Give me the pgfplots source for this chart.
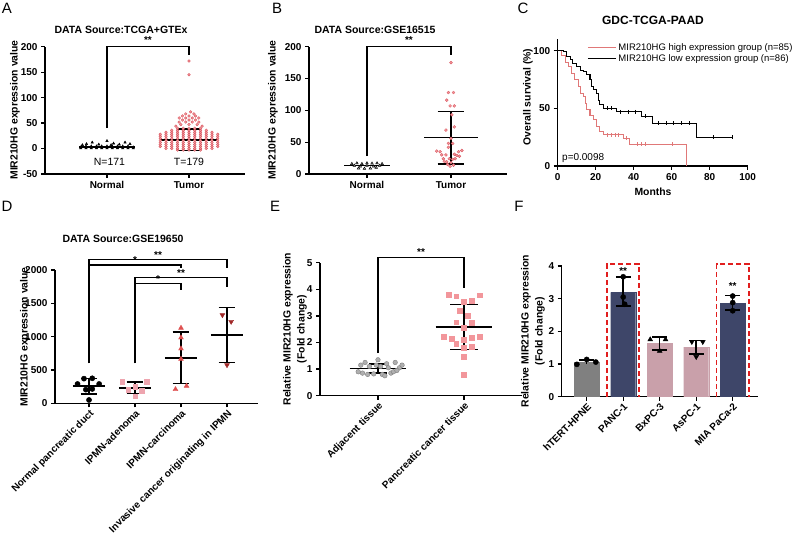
\documentclass[border=0pt]{standalone}
\usepackage{fontspec}
\setmainfont{Liberation Sans}
\usepackage{pgfplots}
\pgfplotsset{compat=1.18}
\definecolor{ptpink}{RGB}{242,150,155}
\definecolor{ptred}{RGB}{215,80,90}
\definecolor{adpink}{RGB}{238,165,175}
\definecolor{carred}{RGB}{222,80,80}
\definecolor{invred}{RGB}{160,40,40}
\definecolor{adjgray}{RGB}{175,175,175}
\definecolor{barg}{RGB}{128,128,128}
\definecolor{barnavy}{RGB}{62,70,105}
\definecolor{barpink}{RGB}{201,160,170}
\definecolor{kmred}{RGB}{224,120,120}
\definecolor{boxred}{RGB}{225,30,30}
\newcommand\lab{\bfseries\fontsize{10.4}{14}\selectfont}
\pgfplotsset{
  gp/.style={
    scale only axis, axis lines*=left,
    axis line style={-, line width=1.2pt},
    every tick/.style={line width=1.2pt, black},
    tick align=outside, major tick length=4pt,
    clip=false,
    yticklabel style={font=\bfseries\fontsize{10}{11}\selectfont},
    xticklabel style={font=\bfseries\fontsize{10}{12}\selectfont},
    /pgf/number format/assume math mode=true,
    /pgf/number format/1000 sep={},
  },
  rot/.style={xticklabel style={rotate=45, anchor=north east, inner sep=1pt}},
  eb/.style={black, line width=1.5pt, forget plot, mark=none},
  br/.style={black, line width=1.2pt, forget plot, mark=none},
}
\begin{document}
\begin{tikzpicture}[x=1pt,y=1pt]
\path[use as bounding box] (0,0) rectangle (800,535);
% panel letters
\node[font=\fontsize{15}{15}\selectfont] at (7,527) {A};
\node[font=\fontsize{15}{15}\selectfont] at (277,527) {B};
\node[font=\fontsize{15}{15}\selectfont] at (523,527) {C};
\node[font=\fontsize{15}{15}\selectfont] at (7,329) {D};
\node[font=\fontsize{15}{15}\selectfont] at (275,329) {E};
\node[font=\fontsize{15}{15}\selectfont] at (519,329) {F};
% titles
\node[font=\bfseries\fontsize{10.5}{12}\selectfont] at (121,505) {DATA Source:TCGA+GTEx};
\node[font=\bfseries\fontsize{10.5}{12}\selectfont] at (375,505) {DATA Source:GSE16515};
\node[font=\bfseries\fontsize{12}{14}\selectfont] at (653,515) {GDC-TCGA-PAAD};
\node[font=\bfseries\fontsize{10.5}{12}\selectfont] at (123,296) {DATA Source:GSE19650};
% y labels
\node[rotate=90, font=\lab] at (15,425) {MIR210HG expression value};
\node[rotate=90, font=\lab] at (273,425) {MIR210HG expression value};
\node[rotate=90, font=\lab] at (528,438) {Overall survival (\%)};
\node[font=\lab] at (653,343) {Months};
\node[rotate=90, font=\lab] at (25,198) {MIR210HG expression value};
\node[rotate=90, font=\lab, align=center] at (295,206) {Relative MIR210HG expression\\(Fold change)};
\node[rotate=90, font=\lab, align=center] at (533,204) {Relative MIR210HG expression\\(Fold change)};

% ================= A
\begin{axis}[gp, at={(45pt,361pt)}, anchor=south west, width=200pt, height=127.3pt,
  xmin=-0.756, xmax=1.683, ymin=-50, ymax=200, ytick={-50,0,50,100,150,200},
  xtick={0,1}, xticklabels={Normal,Tumor}]
\addplot[only marks, mark=triangle*, mark size=1.4pt, mark options={fill=black, draw=black}] coordinates {
(-0.32,0.5)(-0.256,0.5)(-0.192,0.5)(-0.128,0.5)(-0.064,0.5)(0,0.5)(0.064,0.5)(0.128,0.5)(0.192,0.5)(0.256,0.5)(0.32,0.5)
(-0.32,2.5)(-0.256,2.5)(-0.192,2.5)(-0.128,2.5)(-0.064,2.5)(0,2.5)(0.064,2.5)(0.128,2.5)(0.192,2.5)(0.256,2.5)(0.32,2.5)
(-0.256,4.5)(-0.192,4.5)(-0.128,4.5)(-0.064,4.5)(0,4.5)(0.064,4.5)(0.128,4.5)(0.192,4.5)(0.256,4.5)
(-0.25,9)(-0.18,12)(-0.1,8)(0,15)(0.08,10)(0.15,8)(0.22,12)(0.28,9)(-0.3,7)(0.05,7)};
\addplot[only marks, mark=*, mark size=1.4pt, mark options={fill=ptpink, draw=ptred, line width=0.3pt}] coordinates {
(0.86,-3)(0.93,-3)(1,-3)(1.07,-3)(1.14,-3)
(0.72,0)(0.79,0)(0.86,0)(0.93,0)(1,0)(1.07,0)(1.14,0)(1.21,0)(1.28,0)
(0.65,4)(0.72,4)(0.79,4)(0.86,4)(0.93,4)(1,4)(1.07,4)(1.14,4)(1.21,4)(1.28,4)(1.35,4)
(0.65,8)(0.72,8)(0.79,8)(0.86,8)(0.93,8)(1,8)(1.07,8)(1.14,8)(1.21,8)(1.28,8)(1.35,8)
(0.65,12)(0.72,12)(0.79,12)(0.86,12)(0.93,12)(1,12)(1.07,12)(1.14,12)(1.21,12)(1.28,12)(1.35,12)
(0.65,16)(0.72,16)(0.79,16)(0.86,16)(0.93,16)(1,16)(1.07,16)(1.14,16)(1.21,16)(1.28,16)(1.35,16)
(0.65,20)(0.72,20)(0.79,20)(0.86,20)(0.93,20)(1,20)(1.07,20)(1.14,20)(1.21,20)(1.28,20)(1.35,20)
(0.65,24)(0.72,24)(0.79,24)(0.86,24)(0.93,24)(1,24)(1.07,24)(1.14,24)(1.21,24)(1.28,24)(1.35,24)
(0.65,28)(0.72,28)(0.79,28)(0.86,28)(0.93,28)(1,28)(1.07,28)(1.14,28)(1.21,28)(1.28,28)(1.35,28)
(0.72,32)(0.79,32)(0.86,32)(0.93,32)(1,32)(1.07,32)(1.14,32)(1.21,32)(1.28,32)
(0.79,36)(0.86,36)(0.93,36)(1,36)(1.07,36)(1.14,36)(1.21,36)
(0.86,40)(0.93,40)(1,40)(1.07,40)(1.14,40)
(0.84,44)(1.16,44)(0.9,47)(1,47)(1.1,47)
(0.88,52)(0.96,52)(1.04,52)(1.12,52)(0.92,56)(1,56)(1.08,56)
(0.88,60)(0.96,60)(1.04,60)(1.12,60)(0.92,64)(1,64)(1.08,64)
(0.96,68)(1.06,68)(1.02,72)(1,145)(1,172)};
% mean / SD
\addplot[eb] coordinates {(-0.34,3)(0.34,3)};
\addplot[eb] coordinates {(0.66,17)(1.34,17)};
\addplot[eb] coordinates {(1,-4)(1,38)};
\addplot[eb] coordinates {(0.85,38)(1.15,38)};
\addplot[eb] coordinates {(0.85,-4)(1.15,-4)};
% bracket
\addplot[br] coordinates {(0,40)(0,200)(1,200)(1,183)};
\node[font=\bfseries\fontsize{10}{12}\selectfont, anchor=south] at (axis cs:0.5,199) {**};
\node[font=\fontsize{10.5}{12}\selectfont] at (axis cs:0.03,-26) {N=171};
\node[font=\fontsize{10.5}{12}\selectfont] at (axis cs:1,-26) {T=179};
\end{axis}

% ================= B
\begin{axis}[gp, at={(309pt,361pt)}, anchor=south west, width=198pt, height=127.3pt,
  xmin=-0.69, xmax=1.667, ymin=0, ymax=200, ytick={0,50,100,150,200},
  xtick={0,1}, xticklabels={Normal,Tumor}]
\addplot[only marks, mark=triangle*, mark size=1.5pt, mark options={fill=gray!50, draw=black, line width=0.5pt}] coordinates {
(-0.18,16)(-0.12,17)(-0.06,16)(0,17)(0.06,16.5)(0.12,17)(0.18,16)(-0.15,13)(-0.08,12)(0,13)(0.08,12)(0.15,13)(-0.1,9)(-0.03,8.5)(0.04,9)(0.11,10)};
\addplot[only marks, mark=*, mark size=1.5pt, mark options={fill=ptpink, draw=ptred, line width=0.3pt}] coordinates {
(1,175)(0.97,128)(1.03,128)(0.95,116)(0.99,107)(1.04,107)(1.01,93)(1.04,74)(0.94,69)(1,56)(0.97,48)(1.02,48)(0.97,42)(0.83,36)(0.87,35)(1.13,37)(1.09,35)(0.89,30)(0.94,30)(1.04,31)(1.07,29)(0.91,24)(0.98,24)(1.02,23)(1.05,24)(0.95,19)(1,18)(0.96,15)(1.03,14)(0.99,12)(0.92,20)(1.1,28)};
\addplot[eb] coordinates {(-0.27,13)(0.27,13)};
\addplot[eb] coordinates {(0.68,57)(1.32,57)};
\addplot[eb] coordinates {(1,16)(1,98)};
\addplot[eb] coordinates {(0.84,98)(1.16,98)};
\addplot[eb] coordinates {(0.84,16)(1.16,16)};
\addplot[br] coordinates {(0,28)(0,200)(1,200)(1,187)};
\node[font=\bfseries\fontsize{10}{12}\selectfont, anchor=south] at (axis cs:0.5,199) {**};
\end{axis}

% ================= C
\begin{axis}[gp, at={(557.7pt,369pt)}, anchor=south west, width=190pt, height=126.8pt,
  xmin=0, xmax=100, ymin=0, ymax=110, ytick={0,50,100}, xtick={0,20,40,60,80,100},
  legend style={at={(0.155,0.985)}, anchor=north west, draw=none, fill=none,
    font=\fontsize{9.5}{11}\selectfont, inner sep=0pt, row sep=-1pt},
  legend cell align=left,
  legend image code/.code={\draw[#1] (0pt,0pt) -- (28pt,0pt);}]
\addplot[const plot, kmred, line width=1.1pt, mark=none] coordinates {
(0,100)(2,96)(3.9,90)(5.6,86)(7.4,80)(9,75)(10.9,69)(11.8,63)(13.5,60)(14.4,54)(15,49)(17,44)(19,40)(20.5,34)(22,30)(24,27)(34.6,24)(38,19)(68,19)(68,0)};
\addlegendentry{MIR210HG high expression group (n=85)}
\addplot[const plot, black, line width=1.1pt, mark=none] coordinates {
(0,100)(3,99)(4.7,95)(6.5,92)(8,89)(10,86)(11.8,83)(13.5,82)(15,79)(17,75)(18,69)(19,66)(20.5,63)(21.4,57)(22,53)(24,50)(31,47)(44,43)(50,37)(73,25)(91.6,25)};
\addlegendentry{MIR210HG low expression group (n=86)}
\addplot[only marks, mark=|, mark size=2pt, kmred, forget plot] coordinates {
(26,27)(28,27)(30,27)(32,27)(36,24)(42,19)(44,19)(46,19)(60,19)};
\addplot[only marks, mark=|, mark size=2pt, black, forget plot] coordinates {
(26,50)(28,50)(33,47)(37,47)(41,47)(46,43)(53,37)(57,37)(61,37)(65,37)(69,37)(82,25)(91.6,25)};
\node[font=\fontsize{10}{12}\selectfont, anchor=west] at (axis cs:0.5,7) {p=0.0098};
\end{axis}

% ================= D
\begin{axis}[gp, rot, at={(55pt,131.7pt)}, anchor=south west, width=203pt, height=133.3pt,
  xmin=-0.74, xmax=3.674, ymin=0, ymax=2000, ytick={0,500,1000,1500,2000},
  xtick={0,1,2,3}, xticklabels={Normal pancreatic duct,IPMN-adenoma,IPMN-carcinoma,Invasive cancer originating in IPMN}]
\addplot[only marks, mark=*, mark size=2.6pt, black] coordinates {
(-0.25,290)(-0.11,370)(0.07,375)(0.22,290)(-0.07,205)(0.07,215)(0,50)};
\addplot[only marks, mark=square*, mark size=2.3pt, mark options={fill=adpink, draw=adpink}] coordinates {
(0.72,325)(1.25,320)(1,250)(0.85,200)(1.15,185)(1,105)};
\addplot[only marks, mark=triangle*, mark size=2.8pt, mark options={fill=carred, draw=carred}] coordinates {
(2,1130)(2,985)(2,820)(2,665)(1.88,210)(2.12,260)};
\addplot[only marks, mark=triangle*, mark size=2.8pt, mark options={fill=invred, draw=invred, rotate=180}] coordinates {
(2.9,1325)(3.09,1225)(3,575)};
% mean sd
\addplot[eb] coordinates {(-0.35,256)(0.35,256)};
\addplot[eb] coordinates {(0,143)(0,369)};
\addplot[eb] coordinates {(-0.18,143)(0.18,143)};
\addplot[eb] coordinates {(-0.18,369)(0.18,369)};
\addplot[eb] coordinates {(0.65,231)(1.35,231)};
\addplot[eb] coordinates {(1,146)(1,316)};
\addplot[eb] coordinates {(0.82,146)(1.18,146)};
\addplot[eb] coordinates {(0.82,316)(1.18,316)};
\addplot[eb] coordinates {(1.65,678)(2.35,678)};
\addplot[eb] coordinates {(2,300)(2,1070)};
\addplot[eb] coordinates {(1.82,300)(2.18,300)};
\addplot[eb] coordinates {(1.82,1070)(2.18,1070)};
\addplot[eb] coordinates {(2.65,1025)(3.35,1025)};
\addplot[eb] coordinates {(3,615)(3,1435)};
\addplot[eb] coordinates {(2.82,615)(3.18,615)};
\addplot[eb] coordinates {(2.82,1435)(3.18,1435)};
% brackets
\addplot[br] coordinates {(0,600)(0,2160)(3,2160)(3,2025)};
\addplot[br] coordinates {(0,2075)(2,2075)(2,2025)};
\addplot[br] coordinates {(1,600)(1,1890)(3,1890)(3,1750)};
\addplot[br] coordinates {(1,1800)(2,1800)(2,1700)};
\node[font=\bfseries\fontsize{10}{12}\selectfont, anchor=south, inner sep=1pt] at (axis cs:1.5,2160) {**};
\node[font=\bfseries\fontsize{10}{12}\selectfont, anchor=south, inner sep=1pt] at (axis cs:1,2075) {*};
\node[font=\bfseries\fontsize{10}{12}\selectfont, anchor=south, inner sep=1pt] at (axis cs:2,1890) {**};
\node[font=\bfseries\fontsize{10}{12}\selectfont, anchor=south, inner sep=1pt] at (axis cs:1.5,1800) {*};
\end{axis}

% ================= E
\begin{axis}[gp, rot, at={(320pt,139.3pt)}, anchor=south west, width=202pt, height=133pt,
  xmin=-0.674, xmax=1.674, ymin=0, ymax=5, ytick={0,1,2,3,4,5},
  xtick={0,1}, xticklabels={Adjacent tissue,Pancreatic cancer tissue}]
\addplot[only marks, mark=*, mark size=2.3pt, mark options={fill=adjgray, draw=gray}] coordinates {
(-0.23,0.9)(-0.2,1.15)(-0.15,1.25)(-0.1,1.1)(-0.05,0.82)(0,1.35)(0.05,0.8)(0.1,1.2)(0.15,0.85)(0.2,1.25)(0.25,1.05)(-0.18,0.85)(-0.12,0.8)(-0.02,1.15)(0.03,1.1)(0.08,0.75)(0.12,1.05)(0.18,0.9)(0.22,0.95)(0.28,1.15)};
\addplot[only marks, mark=square*, mark size=2.4pt, mark options={fill=ptpink, draw=ptpink}] coordinates {
(0.82,3.8)(0.91,3.74)(1,3.52)(1.09,3.56)(1.18,3.78)(0.95,3.19)(1.04,3.02)(0.91,2.76)(1.09,2.74)(1,2.56)(0.76,2.21)(0.86,2.13)(1,2.11)(1.09,2.19)(1.18,2.21)(0.91,1.94)(1.09,1.84)(1,1.81)(1,1.46)(1,0.78)};
\addplot[eb] coordinates {(-0.33,1.02)(0.33,1.02)};
\addplot[eb] coordinates {(0,0.85)(0,1.19)};
\addplot[eb] coordinates {(-0.1,0.85)(0.1,0.85)};
\addplot[eb] coordinates {(-0.1,1.19)(0.1,1.19)};
\addplot[eb] coordinates {(0.67,2.58)(1.33,2.58)};
\addplot[eb] coordinates {(1,1.73)(1,3.43)};
\addplot[eb] coordinates {(0.84,1.73)(1.16,1.73)};
\addplot[eb] coordinates {(0.84,3.43)(1.16,3.43)};
\addplot[br, line width=1.5pt] coordinates {(0,1.6)(0,5.2)(1,5.2)(1,4.05)};
\node[font=\bfseries\fontsize{10}{12}\selectfont, anchor=south, inner sep=2pt] at (axis cs:0.5,5.2) {**};
\end{axis}

% ================= F
\begin{axis}[gp, rot, at={(561.7pt,138.3pt)}, anchor=south west, width=196.3pt, height=130.7pt,
  xmin=-0.685, xmax=4.693, ymin=0, ymax=4, ytick={0,1,2,3,4},
  xtick={0,1,2,3,4}, xticklabels={hTERT-HPNE,PANC-1,BxPC-3,AsPC-1,MIA PaCa-2}]
\addplot[ybar, bar width=25pt, bar shift=0pt, fill=barg, draw=barg, forget plot] coordinates {(0,1.06)};
\addplot[ybar, bar width=25pt, bar shift=0pt, fill=barnavy, draw=barnavy, forget plot] coordinates {(1,3.19)(4,2.86)};
\addplot[ybar, bar width=25pt, bar shift=0pt, fill=barpink, draw=barpink, forget plot] coordinates {(2,1.63)(3,1.52)};
% error bars
\addplot[eb] coordinates {(0,1.0)(0,1.13)};
\addplot[eb] coordinates {(-0.2,1.13)(0.2,1.13)};
\addplot[eb] coordinates {(1,2.77)(1,3.67)};
\addplot[eb] coordinates {(0.8,3.67)(1.2,3.67)};
\addplot[eb] coordinates {(0.8,2.77)(1.2,2.77)};
\addplot[eb] coordinates {(2,1.43)(2,1.83)};
\addplot[eb] coordinates {(1.8,1.83)(2.2,1.83)};
\addplot[eb] coordinates {(1.8,1.43)(2.2,1.43)};
\addplot[eb] coordinates {(3,1.3)(3,1.72)};
\addplot[eb] coordinates {(2.8,1.72)(3.2,1.72)};
\addplot[eb] coordinates {(2.8,1.3)(3.2,1.3)};
\addplot[eb] coordinates {(4,2.65)(4,3.1)};
\addplot[eb] coordinates {(3.8,3.1)(4.2,3.1)};
\addplot[eb] coordinates {(3.8,2.65)(4.2,2.65)};
% points
\addplot[only marks, mark=*, mark size=2.6pt, black] coordinates {(-0.27,0.99)(0,1.14)(0.25,1.06)(1,3.67)(1,3.05)(1.04,2.83)(4,3.08)(4,2.88)(4,2.63)};
\addplot[only marks, mark=triangle*, mark size=2.8pt, black] coordinates {(1.74,1.75)(2.16,1.75)(2,1.40)};
\addplot[only marks, mark=triangle*, mark size=2.8pt, black, mark options={rotate=180}] coordinates {(2.88,1.68)(3.18,1.68)(3,1.22)};
% dashed boxes
\addplot[boxred, dashed, dash pattern=on 5pt off 3pt, line width=1.6pt, forget plot] coordinates {(0.56,0)(0.56,4.06)(1.44,4.06)(1.44,0)};
\addplot[boxred, dashed, dash pattern=on 5pt off 3pt, line width=1.6pt, forget plot] coordinates {(3.56,0)(3.56,4.06)(4.44,4.06)(4.44,0)};
\node[font=\bfseries\fontsize{10}{12}\selectfont] at (axis cs:1,3.84) {**};
\node[font=\bfseries\fontsize{10}{12}\selectfont] at (axis cs:4,3.39) {**};
\end{axis}
\end{tikzpicture}
\end{document}
